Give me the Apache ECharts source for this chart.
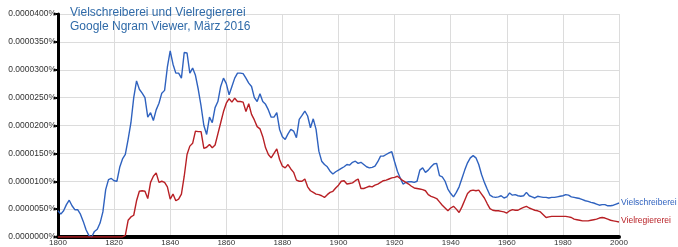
<!DOCTYPE html>
<html>
<head>
<meta charset="utf-8">
<script src="https://cdn.jsdelivr.net/npm/echarts@6/dist/echarts.min.js"></script>
<style>
	html, body { margin: 0; padding: 0; background: #fff; }
	#chart { width: 678px; height: 247px; }
</style>
</head>
<body>
<div id="chart"></div>
<script>
	// Jahre 1800..2000, Werte in Einheiten von 0.000001 %
	const startYear = 1800
	const titleLines = ['Vielschreiberei und Vielregiererei', 'Google Ngram Viewer, März 2016']
	const seriesNames = ['Vielschreiberei', 'Vielregiererei']

	const vielschreiberei = [
		4.7, 4.1, 4.7, 5.8, 6.6, 5.6, 4.9, 4.9, 4.1, 2.8,
		1.3, 0.3, 0.0, 1.0, 1.4, 2.5, 4.5, 8.5, 10.3, 10.5,
		10.1, 10.0, 12.5, 14.0, 14.8, 17.5, 20.5, 25.0, 28.0, 26.5,
		25.8, 25.0, 21.5, 22.3, 20.9, 22.8, 24.0, 25.8, 26.3, 30.5,
		33.4, 31.0, 29.4, 29.4, 28.5, 33.1, 33.0, 29.4, 30.3, 29.0,
		26.5, 23.5, 20.0, 18.4, 21.5, 20.5, 23.2, 24.3, 27.0, 28.5,
		27.5, 25.5, 27.0, 28.5, 29.4, 29.4, 29.3, 28.5, 27.6, 27.0,
		25.0, 24.3, 25.7, 24.3, 23.8, 22.8, 21.5, 21.5, 22.3, 19.3,
		18.0, 17.5, 18.5, 19.3, 19.0, 17.8, 21.1, 21.8, 22.6, 21.7,
		19.6, 21.2, 19.3, 15.4, 13.6, 13.0, 12.6, 11.8, 11.3, 11.7,
		12.0, 12.3, 12.6, 13.0, 12.9, 13.4, 13.6, 13.2, 13.4, 13.0,
		12.6, 12.4, 12.5, 12.7, 13.5, 14.5, 14.5, 14.8, 15.1, 15.3,
		13.5, 11.8, 10.6, 9.5, 9.8, 9.9, 9.9, 9.8, 10.0, 12.0,
		12.4, 11.6, 12.0, 12.6, 13.1, 13.2, 11.0, 10.8, 10.0, 8.6,
		7.8, 7.2, 8.0, 9.0, 10.5, 12.0, 13.3, 14.2, 14.6, 14.2,
		13.0, 11.2, 9.8, 8.6, 7.5, 7.2, 7.1, 7.2, 7.4, 7.0,
		7.2, 7.9, 7.5, 7.6, 7.4, 7.3, 7.4, 8.0, 7.4, 7.2,
		7.0, 7.3, 7.2, 7.1, 7.1, 7.0, 7.1, 7.1, 7.2, 7.3,
		7.4, 7.6, 7.5, 7.2, 7.1, 7.0, 6.9, 6.7, 6.5, 6.4,
		6.2, 6.1, 5.9, 5.7, 5.8, 5.8, 5.6, 5.6, 5.7, 5.9,
		6.1
	]

	const vielregiererei = [
		0, 0, 0, 0, 0, 0, 0, 0, 0, 0,
		0, 0, 0, 0, 0, 0, 0, 0, 0, 0,
		0, 0, 0, 0, 0.3, 3.0, 3.6, 3.9, 6.5, 8.2,
		8.3, 8.2, 6.9, 9.8, 10.9, 11.5, 9.8, 10.0, 9.8, 9.0,
		6.8, 7.7, 6.5, 6.8, 7.7, 10.9, 14.8, 16.3, 16.8, 19.0,
		18.9, 18.9, 15.9, 16.1, 16.6, 16.0, 16.5, 18.5, 20.5, 22.5,
		24.0, 24.8, 24.2, 24.9, 24.3, 24.3, 24.2, 22.5, 23.9, 22.0,
		21.0, 19.8, 19.4, 18.0, 16.0, 14.8, 14.2, 15.0, 15.8, 13.9,
		12.7, 12.4, 13.0, 12.2, 11.6, 10.2, 10.0, 10.0, 10.4, 9.0,
		8.3, 8.0, 7.7, 7.6, 7.4, 7.1, 7.6, 8.0, 8.2, 8.8,
		9.3, 10.0, 10.1, 9.5, 9.6, 9.7, 10.1, 10.4, 8.7, 8.7,
		8.9, 9.1, 9.0, 9.3, 9.5, 9.8, 10.1, 10.2, 10.4, 10.6,
		10.7, 10.9, 10.5, 10.1, 9.8, 9.5, 9.1, 8.8, 8.7, 8.6,
		8.5, 8.3, 7.6, 7.3, 7.1, 6.9, 6.3, 5.7, 5.2, 4.7,
		5.2, 5.5, 5.0, 4.4, 5.4, 6.6, 7.8, 8.3, 8.4, 8.3,
		8.4, 7.7, 7.0, 6.0, 5.1, 4.8, 4.7, 4.7, 4.6, 4.5,
		4.3, 4.7, 4.9, 4.8, 4.8, 5.1, 5.3, 5.5, 5.2, 5.0,
		4.8, 4.7, 4.5, 4.0, 3.5, 3.6, 3.7, 3.7, 3.7, 3.7,
		3.7, 3.7, 3.6, 3.5, 3.2, 3.1, 3.0, 2.9, 2.9, 2.9,
		3.0, 3.1, 3.2, 3.4, 3.5, 3.4, 3.2, 3.0, 2.9, 2.8,
		2.7
	]

	function pairs (arr) {
		let out = []
		for (let i = 0; i < arr.length; i++) {
			out.push([startYear + i, arr[i]])
		}
		return out
	}

	const blue = '#2f62bf'
	const red = '#b82025'

	let chart = echarts.init(document.getElementById('chart'))

	chart.setOption({
		animation: false,
		textStyle: { fontFamily: 'Liberation Sans, Arial, sans-serif' },
		title: {
			text: titleLines.join('\n'),
			left: 70,
			top: 6,
			padding: 0,
			textStyle: {
				fontSize: 12,
				fontWeight: 'normal',
				color: '#2f6aa8',
				lineHeight: 14
			}
		},
		grid: {
			left: 58,
			right: 59,
			top: 14,
			bottom: 9
		},
		xAxis: {
			type: 'value',
			min: 1800,
			max: 2000,
			interval: 20,
			axisLine: { lineStyle: { color: '#000', width: 4 } },
			axisTick: { show: false },
			axisLabel: {
				fontSize: 8,
				color: '#333',
				margin: 2,
				formatter: function (v) { return String(v) }
			},
			splitLine: { lineStyle: { color: '#dcdcdc', width: 1 } }
		},
		yAxis: {
			type: 'value',
			min: 0,
			max: 40,
			interval: 5,
			axisLine: { show: true, lineStyle: { color: '#000', width: 3 } },
			axisTick: { show: true, length: 4, lineStyle: { color: '#000', width: 2 } },
			axisLabel: {
				fontSize: 8.5,
				color: '#333',
				margin: 2,
				formatter: function (v) { return (v * 1e-6).toFixed(7) + '%' }
			},
			splitLine: { lineStyle: { color: '#dcdcdc', width: 1 } }
		},
		series: [
			{
				name: seriesNames[0],
				type: 'line',
				data: pairs(vielschreiberei),
				showSymbol: false,
				lineStyle: { color: blue, width: 1.4 },
				itemStyle: { color: blue },
				endLabel: {
					show: true,
					formatter: '{a}',
					color: blue,
					fontSize: 8.5,
					distance: 2,
					offset: [0, 0]
				}
			},
			{
				name: seriesNames[1],
				type: 'line',
				data: pairs(vielregiererei),
				showSymbol: false,
				lineStyle: { color: red, width: 1.4 },
				itemStyle: { color: red },
				endLabel: {
					show: true,
					formatter: '{a}',
					color: red,
					fontSize: 8.5,
					distance: 2,
					offset: [0, -1]
				}
			}
		]
	})
</script>
</body>
</html>
